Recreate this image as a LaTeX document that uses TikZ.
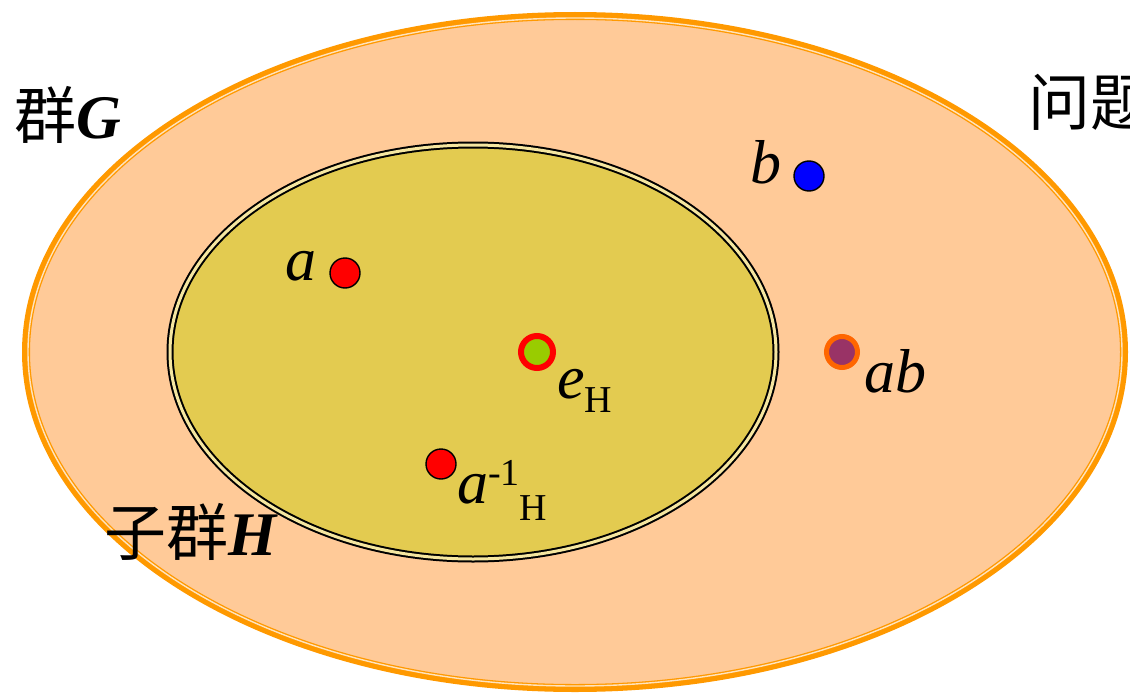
\documentclass[tikz,border=0pt]{standalone}
\usepackage{fontspec}
\setmainfont{Liberation Serif}
\newfontfamily\cjk{Noto Sans CJK SC}
\usepackage{tikz}
\usetikzlibrary{positioning}
\definecolor{peach}{HTML}{FFCA98}
\definecolor{mustard}{HTML}{E3CB50}
\definecolor{gorange}{HTML}{FF9900}
\definecolor{paleline}{HTML}{FFE3BE}
\definecolor{hpale}{HTML}{F5E6A0}
\definecolor{lime}{HTML}{99CC00}
\definecolor{plum}{HTML}{993366}
\definecolor{ringorange}{HTML}{FF6600}
\newcommand{\smallsz}{\fontsize{38}{40}\selectfont}

\begin{document}
\begin{tikzpicture}[x=1pt,y=-1pt,
    elt/.style={circle,draw=black,line width=1.4pt,minimum size=30pt,inner sep=0pt},
    ring/.style={circle,line width=#1,minimum size=32pt,inner sep=0pt},
    lbl/.style={inner sep=0pt,font=\fontsize{62}{70}\selectfont}]

\useasboundingbox (0,0) rectangle (1130,693);

% Groupe G
\fill[peach] (575,352) ellipse [x radius=550pt, y radius=337pt];
\draw[gorange,line width=8pt] (575,352) ellipse [x radius=549pt, y radius=336pt];
\draw[paleline,line width=1.4pt] (575,352) ellipse [x radius=547pt, y radius=334pt];

% Sous-groupe H
\draw[black,line width=2pt,double=hpale,double distance=3pt,fill=mustard]
    (473,352) ellipse [x radius=303pt, y radius=207pt];

% Elements
\node[elt,fill=red] (dotA) at (345,273) {};
\node[elt,fill=blue] (dotB) at (809,176) {};
\node[elt,fill=red] (dotAinv) at (441,464) {};
\node[ring=6pt,draw=red,fill=lime] (dotE) at (537,352) {};
\node[ring=5pt,draw=ringorange,fill=plum,minimum size=31pt] (dotAB) at (842,352) {};

% Etiquettes
\node[lbl,anchor=base east] (lblA) at (317,280) {\textit{a}};
\node[lbl,anchor=base east] (lblB) at (782,183) {\textit{b}};
\node[lbl,anchor=base west] (lblE) at (557,398) {\textit{e}\raisebox{-14pt}{\smallsz H}};
\node[lbl,anchor=base west] (lblAB) at (864,392) {\textit{ab}};
\node[lbl,anchor=base west] (lblAinv) at (457,503) {\textit{a}\raisebox{18pt}{\smallsz -1}\raisebox{-17pt}{\smallsz H}};
\node[lbl,anchor=base west] (lblG) at (14,138) {{\cjk 群}\textbf{\textit{G}}};
\node[lbl,anchor=base west] (lblH) at (104,555) {{\cjk 子群}\textbf{\textit{H}}};
\node[lbl,anchor=base west] (lblQ) at (1028,125) {{\cjk 问题}};

\end{tikzpicture}
\end{document}
